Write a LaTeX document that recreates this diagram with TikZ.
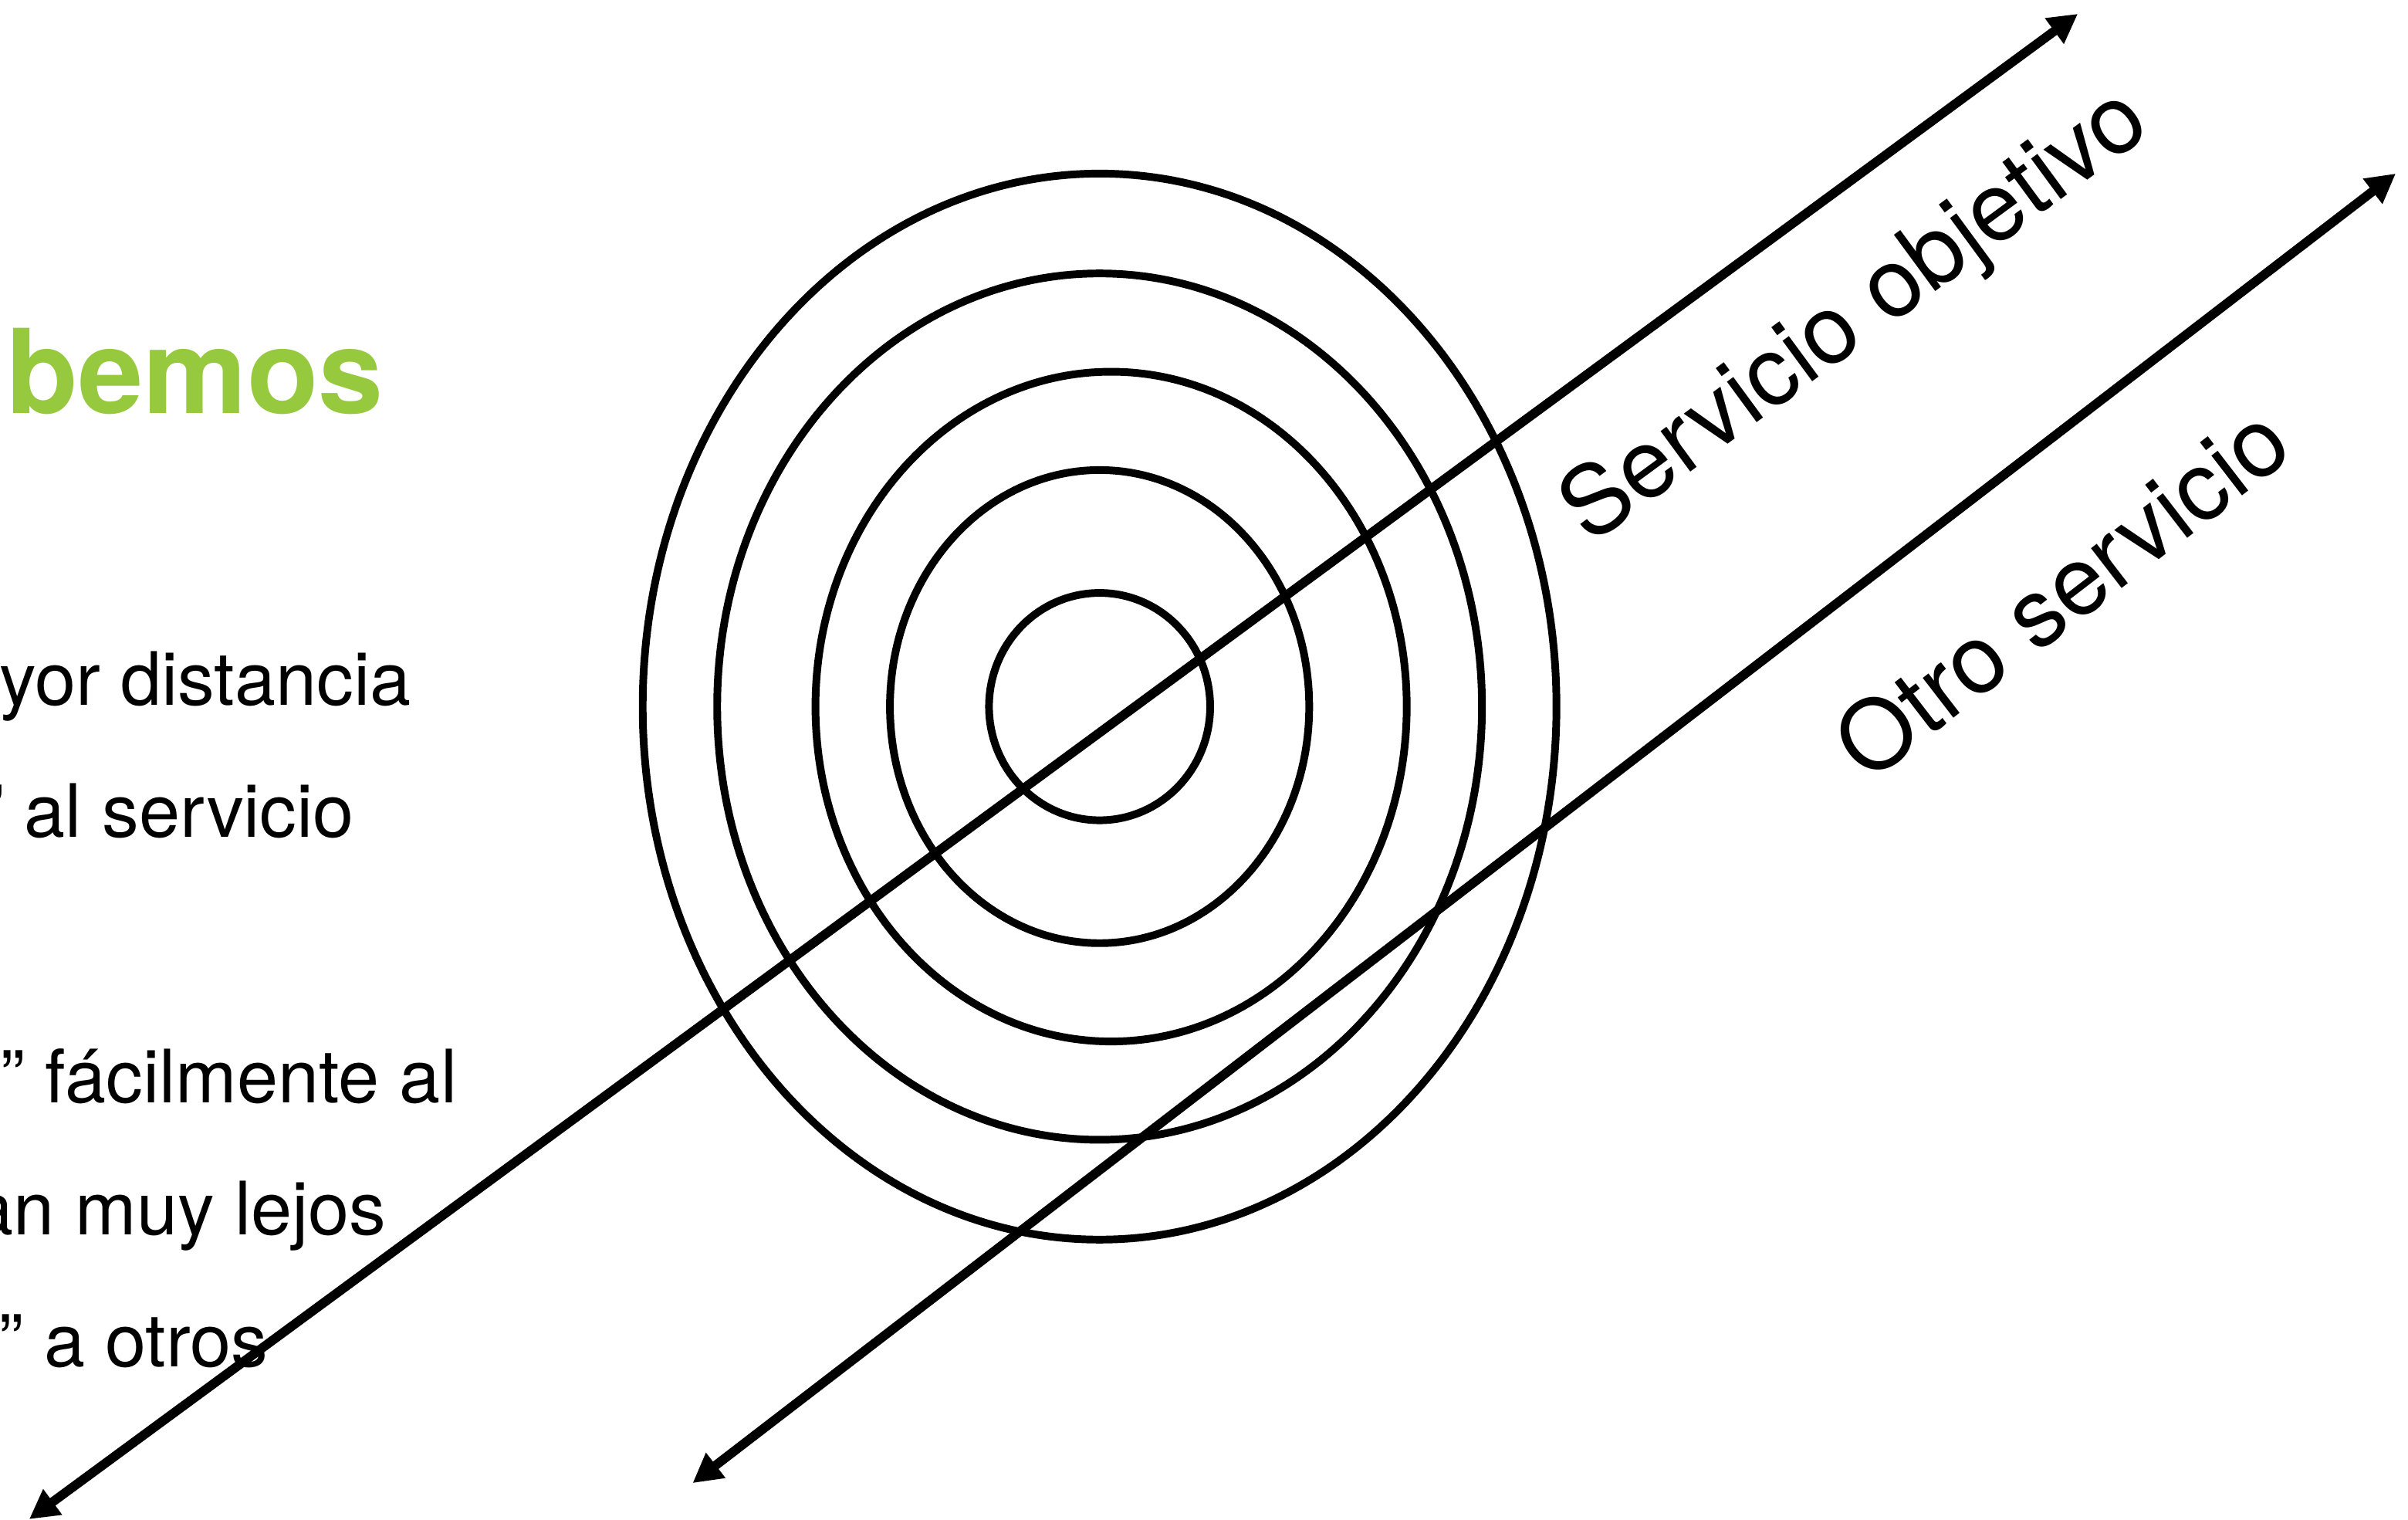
\documentclass[tikz,border=0pt]{standalone}
\usepackage{fontspec}
\setmainfont{TeX Gyre Heros}
\usetikzlibrary{arrows.meta, positioning}
\definecolor{titlegreen}{HTML}{96C93D}
\definecolor{inkblack}{HTML}{000000}

\begin{document}
\begin{tikzpicture}[
    x=0.2mm, y=-0.2mm,
    % ── Text styles ──────────────────────────────────────────────────────
    titletext/.style={
        anchor=base east, inner sep=0pt, text=titlegreen,
        font=\fontsize{43.3}{52}\selectfont\bfseries
    },
    bodytext/.style={
        anchor=base east, inner sep=0pt, text=inkblack,
        font=\fontsize{27.3}{33}\selectfont
    },
    servlabel/.style={
        inner sep=0pt, text=inkblack,
        font=\fontsize{35.5}{43}\selectfont
    },
    % ── Ring and arrow styles ────────────────────────────────────────────
    ring/.style={draw=inkblack, line width=1mm},
    svcarrow/.style={
        {Triangle[length=3.8mm, width=3.9mm]}-{Triangle[length=3.8mm, width=3.9mm]},
        line width=1.2mm, color=inkblack
    }
]

% ═══════════════════════════════════════════════════════════════════════════
% Frame (the slide is cut off on the left)
% ═══════════════════════════════════════════════════════════════════════════
\useasboundingbox (0,0) rectangle (1568,989.5);
\clip (0,0) rectangle (1568,989.5);

% ═══════════════════════════════════════════════════════════════════════════
% Left column — slide text
% ═══════════════════════════════════════════════════════════════════════════
\node[titletext] (title) at (250,269) {bemos};

\node[bodytext] (distline)  at (268,459) {yor distancia};
\node[bodytext] (servline)  at (231,545) {” al servicio};
\node[bodytext] (easyline)  at (298,718) {” fácilmente al};
\node[bodytext] (farline)   at (252,804) {an muy lejos};
\node[bodytext] (otherline) at (175,890) {” a otros};

% ═══════════════════════════════════════════════════════════════════════════
% Target rings
% ═══════════════════════════════════════════════════════════════════════════
\coordinate (target) at (716,460);
\coordinate (midring) at (723.5,460);

\draw[ring] (target) ellipse [x radius=297.5, y radius=347];
\draw[ring] (target) ellipse [x radius=249, y radius=282];
\draw[ring] (midring) ellipse [x radius=192.5, y radius=218];
\draw[ring] (target) ellipse [x radius=136.5, y radius=154];
\draw[ring] (target) ellipse [x radius=72, y radius=74];

% ═══════════════════════════════════════════════════════════════════════════
% Service axes
% ═══════════════════════════════════════════════════════════════════════════
\coordinate (objlow)    at (19,989);
\coordinate (objhigh)   at (1353,9);
\coordinate (otherlow)  at (451,965.5);
\coordinate (otherhigh) at (1560,113);

\draw[svcarrow] (objlow) -- (objhigh);
\draw[svcarrow] (otherlow) -- (otherhigh);

\node[servlabel, rotate=36.3] (objlabel) at (1209,207) {Servicio objetivo};
\node[servlabel, rotate=37.6] (otherlabel) at (1342,385) {Otro servicio};

\end{tikzpicture}
\end{document}
